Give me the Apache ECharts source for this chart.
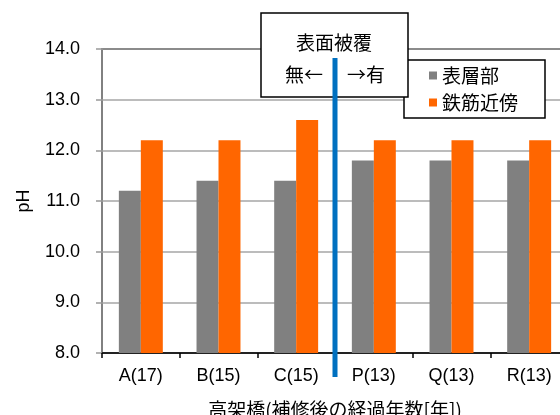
<!DOCTYPE html>
<html>
<head>
<meta charset="utf-8">
<script src="https://cdn.jsdelivr.net/npm/echarts@6/dist/echarts.min.js"></script>
<style>
  html, body { margin: 0; padding: 0; background: #fff; }
  #chart { width: 560px; height: 415px; }
</style>
</head>
<body>
<div id="chart"></div>
<script>
// Bridges, with years since repair in parentheses
const categories = ['A(17)', 'B(15)', 'C(15)', 'P(13)', 'Q(13)', 'R(13)'];
// pH near the surface layer
const surfacePH = [11.2, 11.4, 11.4, 11.8, 11.8, 11.8];
// pH near the reinforcing steel
const rebarPH = [12.2, 12.2, 12.6, 12.2, 12.2, 12.2];
const seriesNames = ['表層部', '鉄筋近傍'];

const numFont = '"Liberation Sans", Arial, sans-serif';
const jpFont = '"Noto Sans CJK JP", "Noto Sans", sans-serif';

const chart = echarts.init(document.getElementById('chart'), null, { renderer: 'canvas' });

const option = {
  animation: false,
  backgroundColor: '#fff',
  grid: {
    left: 102, top: 49, width: 466, height: 304,
    outerBoundsMode: 'none',
    containLabel: false,
    show: true, borderColor: '#000', borderWidth: 1.5, backgroundColor: 'transparent'
  },
  legend: {
    orient: 'vertical',
    left: 404, top: 60,
    data: seriesNames,
    icon: 'rect',
    itemWidth: 8, itemHeight: 8,
    itemGap: 8,
    padding: [6, 27, 6, 25],
    backgroundColor: '#fff',
    borderColor: '#000', borderWidth: 1.5,
    textStyle: { fontFamily: jpFont, fontSize: 19, color: '#000' },
    z: 20
  },
  xAxis: {
    type: 'category',
    data: categories,
    boundaryGap: true,
    name: '高架橋(補修後の経過年数[年])',
    nameLocation: 'middle',
    nameGap: 47,
    nameTextStyle: { fontFamily: jpFont, fontSize: 19, color: '#000' },
    axisLine: { lineStyle: { color: '#000', width: 1.5 } },
    axisTick: { show: true, inside: false, length: 5, lineStyle: { color: '#000', width: 1.5 } },
    axisLabel: { margin: 14, fontFamily: numFont, fontSize: 18, color: '#000' },
    splitLine: { show: false }
  },
  yAxis: {
    type: 'value',
    min: 8, max: 14, interval: 1,
    name: 'pH',
    nameLocation: 'middle',
    nameRotate: 90,
    nameGap: 69,
    nameTextStyle: { fontFamily: numFont, fontSize: 18, color: '#000' },
    axisLine: { show: true, lineStyle: { color: '#999', width: 1.5 } },
    axisTick: { show: true, inside: false, length: 6, lineStyle: { color: '#999', width: 1.5 } },
    axisLabel: {
      margin: 22, fontFamily: numFont, fontSize: 18, color: '#000',
      formatter: v => v.toFixed(1)
    },
    splitLine: { show: true, lineStyle: { color: '#A6A6A6', width: 1.5 } }
  },
  series: [
    {
      name: seriesNames[0], type: 'bar', data: surfacePH,
      barWidth: '28.3%', barGap: '0%',
      itemStyle: { color: '#808080' }
    },
    {
      name: seriesNames[1], type: 'bar', data: rebarPH,
      barWidth: '28.3%', barGap: '0%',
      itemStyle: { color: '#FF6600' }
    }
  ]
};

chart.setOption(option);

// Divider between uncoated (A–C) and coated (P–R) bridges, placed on the category boundary
const cx = chart.convertToPixel({ xAxisIndex: 0 }, 2);
const px = chart.convertToPixel({ xAxisIndex: 0 }, 3);
const dividerX = Math.round((cx + px) / 2);
const boxW = 147, boxLeft = dividerX - 74;

chart.setOption({
  graphic: [
    {
      type: 'rect', z: 30,
      shape: { x: boxLeft, y: 13, width: boxW, height: 84 },
      style: { fill: '#fff', stroke: '#000', lineWidth: 1.5 }
    },
    {
      type: 'text', z: 31,
      style: {
        x: dividerX - 1, y: 43, text: '表面被覆',
        font: '19px ' + jpFont, fill: '#000', align: 'center', verticalAlign: 'middle'
      }
    },
    {
      type: 'text', z: 31,
      style: {
        x: dividerX - 12, y: 75, text: '無←',
        font: '19px ' + jpFont, fill: '#000', align: 'right', verticalAlign: 'middle'
      }
    },
    {
      type: 'text', z: 31,
      style: {
        x: dividerX + 12, y: 75, text: '→有',
        font: '19px ' + jpFont, fill: '#000', align: 'left', verticalAlign: 'middle'
      }
    },
    {
      type: 'line', z: 40,
      shape: { x1: dividerX, y1: 58, x2: dividerX, y2: 377 },
      style: { stroke: '#0070C0', lineWidth: 5 }
    }
  ]
});
</script>
</body>
</html>
